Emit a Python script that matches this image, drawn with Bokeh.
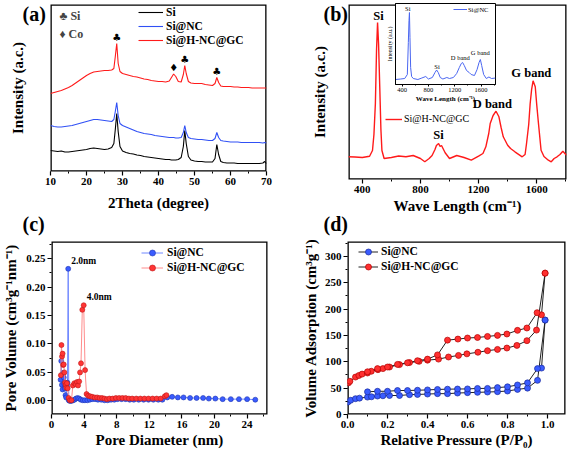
from bokeh.plotting import figure
from bokeh.models import (Range1d, Legend, LegendItem, Label, SingleIntervalTicker,
                          NumeralTickFormatter, FixedTicker)
from bokeh.layouts import row, column
from bokeh.core.properties import value
from bokeh.embed import file_html
from bokeh.resources import INLINE

FONT = "Liberation Serif"
BLUE = "#3050f5"
RED = "#ff1a1a"

# ---------------- (a) XRD ----------------
xrd_theta = [10, 11, 12, 13, 14, 15, 16, 17, 18, 19, 20, 21, 22, 23, 24, 25, 26, 27, 27.6, 28.0,
             28.4, 28.8, 29.3, 30, 31, 32, 33, 34, 35, 36, 37, 38, 39, 40, 41, 42, 43, 43.6, 44.2,
             44.8, 45.5, 46.3, 46.9, 47.3, 47.7, 48.3, 49, 50, 51, 52, 53, 54, 55, 55.7, 56.2, 56.7,
             57.3, 58, 59, 60, 61, 62, 63, 64, 65, 66, 67, 68, 69, 69.5, 70]
xrd_si = [21, 20.5, 20, 20.5, 19.5, 19.5, 20, 20.5, 21, 21.5, 22, 23, 23.5, 23, 22.5, 22, 22.5, 24, 28, 42,
          58, 40, 25, 20.5, 19, 18, 17.5, 16.5, 16, 15, 14.5, 14, 13.5, 13, 12.5, 12, 12, 11.5, 11.5,
          11.5, 12, 14, 25, 41, 28, 15, 11.5, 10.5, 10, 10, 9.5, 9.5, 9.5, 13, 27, 17,
          10, 9, 8.5, 8.5, 8.5, 8, 8, 8, 8, 8, 8, 8, 8.5, 10, 8]
xrd_si_nc = [46, 45, 44.5, 44.5, 45, 45.5, 46, 47, 48, 49, 50, 51, 52, 52, 51.5, 51, 50.5, 50, 52, 60,
             69, 56, 48, 46, 44.5, 43, 41.5, 40, 39, 38, 37.5, 37, 36, 35.5, 35, 34.5, 34, 34, 34,
             33.5, 33.5, 34, 39, 46, 39, 34, 33, 32.5, 32, 32, 31.5, 31, 31, 33, 39, 34,
             31, 30.5, 30, 29.5, 29.5, 29.5, 29, 29, 29, 29, 29, 29, 28.5, 29, 28.5]
xrd_si_hnc_gc = [78, 79, 80, 81, 82.5, 84, 86, 88.5, 91, 93.5, 96, 98, 99.5, 100, 100.5, 101, 101, 101.5, 103, 115,
                 128, 108, 100, 98, 97, 96, 95, 94.5, 93.5, 92.5, 92, 91, 90.5, 90, 90, 89.5, 90.5, 94, 97.5,
                 95, 90, 89.5, 97, 106, 98, 90, 88.5, 88, 88, 88, 87, 86.5, 86, 88, 94, 89,
                 85.5, 85, 85, 85, 84.5, 84.5, 84, 84, 84, 83.5, 83.5, 83.5, 83.5, 83.5, 83.5]
xrd_mark_theta = [28.4, 47.3, 56.2, 44.2]
xrd_mark_level = [134, 112, 100, 104]
xrd_mark_symbol = ["\u2663", "\u2663", "\u2663", "\u2666"]

# ---------------- (b) Raman ----------------
raman_shift = [305, 350, 400, 450, 470, 480, 490, 498, 505, 512, 520, 528, 535, 550, 600, 650, 700, 750, 800,
               830, 860, 880, 900, 910, 925, 935, 945, 970, 1000, 1050, 1100, 1150, 1200, 1230, 1250,
               1270, 1280, 1300, 1320, 1340, 1355, 1370, 1400, 1420, 1450, 1500, 1520, 1530, 1545,
               1555, 1565, 1575, 1590, 1600, 1610, 1630, 1650, 1680, 1700, 1720, 1740, 1760, 1780, 1805]
raman_si_hnc_gc = [22.7, 22.5, 22, 23.3, 29, 45, 76, 130, 157, 135, 93, 50, 29, 21, 22, 23.5, 22.7, 24, 21,
                   17.7, 21, 24, 30, 34, 36, 33, 34, 26.7, 21, 24, 22, 19.3, 23.3, 26, 32.7,
                   46, 56, 64, 68.3, 62.7, 52, 42.7, 34.3, 31, 27.7, 22.7, 25, 36, 55,
                   76, 90, 98.7, 92.7, 75, 59.3, 29.3, 23, 19.3, 17.7, 21, 22.7, 25, 28.3, 24.3]
raman_inset_shift = [300, 380, 440, 480, 495, 505, 512, 520, 530, 545, 570, 640, 700, 760, 800, 860, 900,
                     925, 950, 980, 1020, 1080, 1120, 1180, 1230, 1270, 1300, 1320, 1345, 1380, 1420,
                     1450, 1500, 1540, 1570, 1590, 1610, 1640, 1680, 1720, 1760, 1820]
raman_inset_si_nc = [5, 5.5, 6, 10, 42, 64, 72, 47, 17, 8, 6, 5, 6.5, 8, 5.5, 7, 12,
                     14.5, 12, 7, 5.5, 7, 6, 7, 11, 17, 21, 22, 19, 14, 12,
                     10, 9, 15, 22, 25, 19, 10, 6, 7.5, 6, 6.5]
raman_peak_pos = [511, 924, 1295, 1563]
raman_peak_level = [164, 45, 76, 107]
raman_peak_name = ["Si", "Si", "D band", "G band"]
inset_peak_pos = [487, 931, 1285, 1589]
inset_peak_level = [76, 18, 27, 32]
inset_peak_name = ["Si", "Si", "D band", "G band"]

# ---------------- (c) pore size distribution ----------------
pore_d_nc = [1.12, 1.20, 1.28, 1.36, 1.43, 1.50, 1.57, 1.64, 1.72, 1.80, 1.88, 1.96, 2.05, 2.12, 2.22, 2.34,
             2.48, 2.64, 2.82, 3.0, 3.2, 3.4, 3.6, 3.85, 4.1, 4.4, 4.7, 5.0, 5.35, 5.7, 6.1, 6.5, 6.9,
             7.3, 7.7, 8.1, 8.6, 9.1, 9.6, 10.1, 10.7, 11.3, 11.9, 12.5, 13.1, 13.6, 14.2, 14.8, 15.5,
             16.2, 17.0, 17.8, 18.6, 19.3, 20.1, 21.0, 22.0, 23.0, 24.0, 25.0]
pore_v_nc = [0.037, 0.070, 0.028, 0.020, 0.049, 0.041, 0.030, 0.022, 0.010, 0.006, 0.027, 0.032, 0.232, 0.001,
             0.000, 0.000, 0.000, 0.001, 0.002, 0.004, 0.005, 0.004, 0.002, 0.001, 0.001, 0.001, 0.002,
             0.003, 0.003, 0.002, 0.002, 0.001, 0.001, 0.002, 0.002, 0.003, 0.003, 0.003, 0.002, 0.002,
             0.002, 0.002, 0.002, 0.002, 0.002, 0.002, 0.006, 0.007, 0.006, 0.006, 0.005, 0.005, 0.005,
             0.004, 0.004, 0.003, 0.003, 0.003, 0.003, 0.002]
pore_d_hnc = [1.15, 1.22, 1.29, 1.36, 1.43, 1.50, 1.58, 1.66, 1.74, 1.82, 1.90, 1.98, 2.10, 2.25, 2.45, 2.62,
              2.80, 2.98, 3.12, 3.26, 3.40, 3.50, 3.62, 3.78, 3.95, 4.12, 4.30, 4.50, 4.75, 5.0, 5.3, 5.6,
              5.9, 6.2, 6.5, 6.8, 7.1, 7.5, 7.9, 8.3, 8.7, 9.1, 9.5, 9.9, 10.4, 10.9, 11.4, 11.9, 12.4,
              12.9, 13.4, 13.9, 14.1]
pore_v_hnc = [0.045, 0.098, 0.078, 0.083, 0.063, 0.064, 0.050, 0.032, 0.028, 0.023, 0.031, 0.022, 0.005, 0.001,
              0.001, 0.027, 0.031, 0.029, 0.033, 0.027, 0.034, 0.050, 0.066, 0.160, 0.168, 0.054, 0.012,
              0.009, 0.008, 0.007, 0.006, 0.006, 0.005, 0.005, 0.004, 0.003, 0.004, 0.004, 0.005, 0.005,
              0.005, 0.005, 0.004, 0.004, 0.004, 0.004, 0.004, 0.004, 0.004, 0.004, 0.004, 0.008, 0.010]
pore_note_pos = [2.05, 3.95]
pore_note_level = [0.246, 0.182]
pore_note_text = ["2.0nm", "4.0nm"]

# ---------------- (d) N2 isotherms ----------------
iso_p_ads_nc = [0.002, 0.016, 0.04, 0.06, 0.10, 0.12, 0.15, 0.177, 0.21, 0.26, 0.31, 0.35, 0.40, 0.45, 0.50,
                0.55, 0.60, 0.65, 0.70, 0.75, 0.80, 0.85, 0.90, 0.95, 0.988]
iso_v_ads_nc = [23.5, 27, 30, 31, 33, 33.6, 35, 35.5, 36, 36, 37.6, 38, 38.8, 39.5, 39.5,
                40.7, 41.4, 42, 42.6, 43.3, 44.5, 47.6, 50, 64.7, 179]
iso_p_des_nc = [0.988, 0.97, 0.95, 0.90, 0.85, 0.80, 0.75, 0.70, 0.65, 0.60, 0.55, 0.50, 0.45, 0.40, 0.35,
                0.30, 0.25, 0.20, 0.15, 0.10]
iso_v_des_nc = [179, 88, 87, 60, 56, 52.5, 51, 49.5, 49.4, 48.5, 48.3, 48, 47.5, 46.6, 46,
                45.5, 45.5, 44, 44, 43]
iso_p_ads_hnc = [0.005, 0.012, 0.04, 0.057, 0.073, 0.10, 0.119, 0.152, 0.177, 0.21, 0.26, 0.31, 0.358, 0.40,
                 0.455, 0.505, 0.555, 0.597, 0.652, 0.70, 0.75, 0.797, 0.847, 0.897, 0.945, 0.988]
iso_v_ads_hnc = [60, 63, 71, 74, 76.6, 78.7, 82, 85, 87, 90, 94.6, 98.5, 100.8, 103,
                 105, 109, 112, 115, 118, 121, 123.4, 126, 131, 140, 160, 268]
iso_p_des_hnc = [0.988, 0.97, 0.948, 0.897, 0.85, 0.797, 0.75, 0.70, 0.65, 0.60, 0.552, 0.50, 0.45, 0.40,
                 0.35, 0.30, 0.25, 0.20, 0.15, 0.10]
iso_v_des_hnc = [268, 189, 193, 164, 159.5, 152.6, 150, 148, 146, 145, 143, 141, 113, 105,
                 102, 98, 95, 90, 87, 81]

panel_tags = ["(a)", "(b)", "(c)", "(d)"]


def base_fig(fw, fh, xr, yr, mbl, mbr, mbt, mbb):
    p = figure(frame_width=fw, frame_height=fh, x_range=xr, y_range=yr,
               output_backend="svg", toolbar_location=None,
               min_border_left=mbl, min_border_right=mbr,
               min_border_top=mbt, min_border_bottom=mbb)
    p.grid.visible = False
    p.outline_line_color = None
    p.background_fill_color = "white"
    p.border_fill_color = None
    for ax in p.axis:
        ax.axis_line_color = None
        ax.major_tick_in = 0
        ax.major_tick_out = 4
        ax.minor_tick_in = 0
        ax.minor_tick_out = 2
        ax.major_tick_line_width = 1.2
        ax.minor_tick_line_width = 1.0
        ax.major_label_text_font = FONT
        ax.major_label_text_font_style = "bold"
        ax.major_label_text_font_size = "11px"
        ax.major_label_text_color = "black"
        ax.major_label_standoff = 2
        ax.axis_label_text_font = FONT
        ax.axis_label_text_font_style = "bold"
        ax.axis_label_text_font_size = "15px"
        ax.axis_label_text_color = "black"
        ax.axis_label_standoff = 2
    # plot-area box along the range limits (half of the stroke is clipped away)
    p.quad(left=[xr.start], right=[xr.end], bottom=[yr.start], top=[yr.end],
           fill_alpha=0, line_color="black", line_width=2.6)
    return p


def tag_fig(text, left, top):
    t = figure(frame_width=60, frame_height=26, x_range=Range1d(0, 1), y_range=Range1d(0, 1),
               output_backend="svg", toolbar_location=None,
               x_axis_location=None, y_axis_location=None,
               min_border_left=0, min_border_right=0, min_border_top=0, min_border_bottom=0)
    t.grid.visible = False
    t.outline_line_color = None
    t.background_fill_alpha = 0
    t.border_fill_alpha = 0
    t.add_layout(Label(x=1, y=13, x_units="screen", y_units="screen", text=text,
                       text_font=FONT, text_font_style="bold", text_font_size="20px",
                       text_baseline="middle", text_align="left", text_color="black"))
    t.styles = {"position": "absolute", "left": f"{left}px", "top": f"{top}px", "z-index": "20"}
    return t


def make_legend(p, items, vx, top_off, row_h, glyph_w, font_size, style="bold", standoff=4):
    leg = Legend(items=items, location=(vx, p.frame_height - top_off - row_h * len(items)),
                 glyph_width=glyph_w, glyph_height=row_h, label_height=row_h,
                 spacing=0, padding=0, margin=0, label_standoff=standoff,
                 border_line_color=None, background_fill_alpha=0,
                 label_text_font=FONT, label_text_font_style=style,
                 label_text_font_size=font_size, label_text_color="black")
    p.add_layout(leg)
    return leg


# ================= (a) =================
pa = base_fig(216, 167, Range1d(10, 70), Range1d(0, 167), 50, 17, 4, 43)
pa.xaxis.ticker = SingleIntervalTicker(interval=10, num_minor_ticks=2)
pa.yaxis.ticker = FixedTicker(ticks=[])
pa.yaxis.axis_label = "Intensity (a.c.)"
pa.yaxis.axis_label_standoff = 25
pa.xaxis.axis_label = "2Theta (degree)"
pa.xaxis.axis_label_standoff = 7
ra1 = pa.line(xrd_theta, xrd_si, line_color="black", line_width=1.1)
ra2 = pa.line(xrd_theta, xrd_si_nc, line_color=BLUE, line_width=1.1)
ra3 = pa.line(xrd_theta, xrd_si_hnc_gc, line_color=RED, line_width=1.1)
pa.text(x=xrd_mark_theta, y=xrd_mark_level, text=xrd_mark_symbol, text_font=value("DejaVu Sans"),
        text_font_size="10px", text_align="center", text_baseline="middle", text_color="black")
pa.add_layout(Label(x=9, y=167 - 11, x_units="screen", y_units="screen", text="\u2663 Si",
                    text_font=FONT, text_font_style="bold", text_font_size="12px",
                    text_baseline="middle"))
pa.add_layout(Label(x=9, y=167 - 29, x_units="screen", y_units="screen", text="\u2666 Co",
                    text_font=FONT, text_font_style="bold", text_font_size="12px",
                    text_baseline="middle"))
make_legend(pa, [LegendItem(label="Si", renderers=[ra1]),
                 LegendItem(label="Si@NC", renderers=[ra2]),
                 LegendItem(label="Si@H-NC@GC", renderers=[ra3])],
            vx=88, top_off=1, row_h=14, glyph_w=25, font_size="11.5px", standoff=3)

# ================= (b) =================
pb = base_fig(218, 175, Range1d(305, 1805), Range1d(0, 175), 65, 1, 1, 38)
pb.xaxis.ticker = SingleIntervalTicker(interval=400, num_minor_ticks=2)
pb.yaxis.ticker = FixedTicker(ticks=[])
pb.yaxis.axis_label = "Intensity (a.c.)"
pb.yaxis.axis_label_standoff = 21
pb.xaxis.axis_label = "Wave Length (cm\u207b\u00b9)"
pb.xaxis.axis_label_standoff = 2
rb = pb.line(raman_shift, raman_si_hnc_gc, line_color=RED, line_width=1.4)
pb.text(x=raman_peak_pos, y=raman_peak_level, text=raman_peak_name, text_font=value(FONT),
        text_font_style="bold", text_font_size="12.5px", text_align="center",
        text_baseline="middle", text_color="black")
make_legend(pb, [LegendItem(label="Si@H-NC@GC", renderers=[rb])],
            vx=37, top_off=108.7, row_h=12, glyph_w=17, font_size="10px", style="normal", standoff=2)

# inset of (b)
pin = figure(frame_width=100, frame_height=81, x_range=Range1d(300, 1820), y_range=Range1d(0, 81),
             output_backend="svg", toolbar_location=None,
             min_border_left=14, min_border_right=4, min_border_top=2, min_border_bottom=22)
pin.grid.visible = False
pin.outline_line_color = "black"
pin.outline_line_width = 1.0
pin.background_fill_color = "white"
pin.border_fill_alpha = 0
for ax in pin.axis:
    ax.axis_line_width = 1.0
    ax.major_tick_in = 0
    ax.major_tick_out = 2
    ax.minor_tick_in = 0
    ax.minor_tick_out = 1
    ax.major_label_text_font = FONT
    ax.major_label_text_font_size = "6.5px"
    ax.major_label_text_color = "black"
    ax.major_label_standoff = 1
    ax.axis_label_text_font = FONT
    ax.axis_label_text_font_style = "bold"
    ax.axis_label_text_font_size = "7px"
    ax.axis_label_text_color = "black"
    ax.axis_label_standoff = 0
pin.xaxis.ticker = SingleIntervalTicker(interval=400, num_minor_ticks=2)
pin.yaxis.ticker = FixedTicker(ticks=[])
pin.xaxis.axis_label = "Wave Length (cm\u207b\u00b9)"
pin.yaxis.axis_label = "Intensity (a.u.)"
pin.yaxis.axis_label_text_font_size = "6px"
pin.yaxis.axis_label_text_font_style = "normal"
pin.yaxis.axis_label_standoff = 3
rin = pin.line(raman_inset_shift, raman_inset_si_nc, line_color="#4a66f0", line_width=1.0)
pin.text(x=inset_peak_pos, y=inset_peak_level, text=inset_peak_name, text_font=value(FONT),
         text_font_size="6.5px", text_align="center", text_baseline="middle", text_color="black")
make_legend(pin, [LegendItem(label="Si@NC", renderers=[rin])],
            vx=58, top_off=2, row_h=8, glyph_w=14, font_size="6.5px", style="normal", standoff=1)
pin.styles = {"position": "absolute", "left": "381px", "top": "1px", "z-index": "10"}

# ================= (c) =================
pc = base_fig(216, 173, Range1d(0, 26.5), Range1d(-0.024, 0.28), 50, 17, 26, 41)
pc.xaxis.ticker = SingleIntervalTicker(interval=4, num_minor_ticks=2)
pc.yaxis.ticker = SingleIntervalTicker(interval=0.05, num_minor_ticks=2)
pc.yaxis.formatter = NumeralTickFormatter(format="0.00")
pc.xaxis.axis_label = "Pore Diameter (nm)"
pc.yaxis.axis_label = "Pore Volume (cm\u00b3g\u207b\u00b9nm\u207b\u00b9)"
pc.xaxis.axis_label_standoff = 1
pc.yaxis.axis_label_standoff = 4
lc1 = pc.line(pore_d_nc, pore_v_nc, line_color="#7088ff", line_width=1.0)
sc1 = pc.scatter(pore_d_nc, pore_v_nc, size=5, fill_color="#3a5cff", line_color="#1f35b0", line_width=0.6)
lc2 = pc.line(pore_d_hnc, pore_v_hnc, line_color="#ff8c8c", line_width=1.0)
sc2 = pc.scatter(pore_d_hnc, pore_v_hnc, size=5, fill_color="#ff3535", line_color="#c01515", line_width=0.6)
pc.text(x=pore_note_pos, y=pore_note_level, text=pore_note_text, text_font=value(FONT),
        text_font_style="bold", text_font_size="9.5px", text_align="left",
        text_baseline="middle", text_color="black", x_offset=3)
make_legend(pc, [LegendItem(label="Si@NC", renderers=[lc1, sc1]),
                 LegendItem(label="Si@H-NC@GC", renderers=[lc2, sc2])],
            vx=90, top_off=3.8, row_h=15, glyph_w=22, font_size="11.5px", standoff=4)

# ================= (d) =================
pd_ = base_fig(218, 173, Range1d(0, 1.09), Range1d(0, 328), 63, 3, 27, 40)
pd_.xaxis.ticker = SingleIntervalTicker(interval=0.2, num_minor_ticks=2)
pd_.xaxis.formatter = NumeralTickFormatter(format="0.0")
pd_.yaxis.ticker = SingleIntervalTicker(interval=50, num_minor_ticks=2)
pd_.xaxis.axis_label = "Relative Pressure (P/P\u2080)"
pd_.yaxis.axis_label = "Volume Adsorption (cm\u00b3g\u207b\u00b9)"
pd_.xaxis.axis_label_standoff = 1
pd_.yaxis.axis_label_standoff = 3
ld1 = pd_.line(iso_p_ads_nc, iso_v_ads_nc, line_color="#222222", line_width=1.0)
pd_.line(iso_p_des_nc, iso_v_des_nc, line_color="#222222", line_width=1.0)
sd1 = pd_.scatter(iso_p_ads_nc, iso_v_ads_nc, size=6, fill_color="#3a5cff", line_color="#1a2a9a", line_width=0.7)
pd_.scatter(iso_p_des_nc, iso_v_des_nc, size=6, fill_color="#3a5cff", line_color="#1a2a9a", line_width=0.7)
ld2 = pd_.line(iso_p_ads_hnc, iso_v_ads_hnc, line_color="#222222", line_width=1.0)
pd_.line(iso_p_des_hnc, iso_v_des_hnc, line_color="#222222", line_width=1.0)
sd2 = pd_.scatter(iso_p_ads_hnc, iso_v_ads_hnc, size=6, fill_color="#ff3030", line_color="#b00000", line_width=0.7)
pd_.scatter(iso_p_des_hnc, iso_v_des_hnc, size=6, fill_color="#ff3030", line_color="#b00000", line_width=0.7)
make_legend(pd_, [LegendItem(label="Si@NC", renderers=[ld1, sd1]),
                  LegendItem(label="Si@H-NC@GC", renderers=[ld2, sd2])],
            vx=11, top_off=2.8, row_h=15, glyph_w=20, font_size="11.5px", standoff=3)

# panel tags (small transparent overlay canvases)
tags = [tag_fig(panel_tags[0], 7, 0), tag_fig(panel_tags[1], 308, 0),
        tag_fig(panel_tags[2], 7, 210), tag_fig(panel_tags[3], 308, 210)]

root = column(row(pa, pb), row(pc, pd_), pin, *tags)
open("out.html", "w").write(file_html(root, INLINE))
